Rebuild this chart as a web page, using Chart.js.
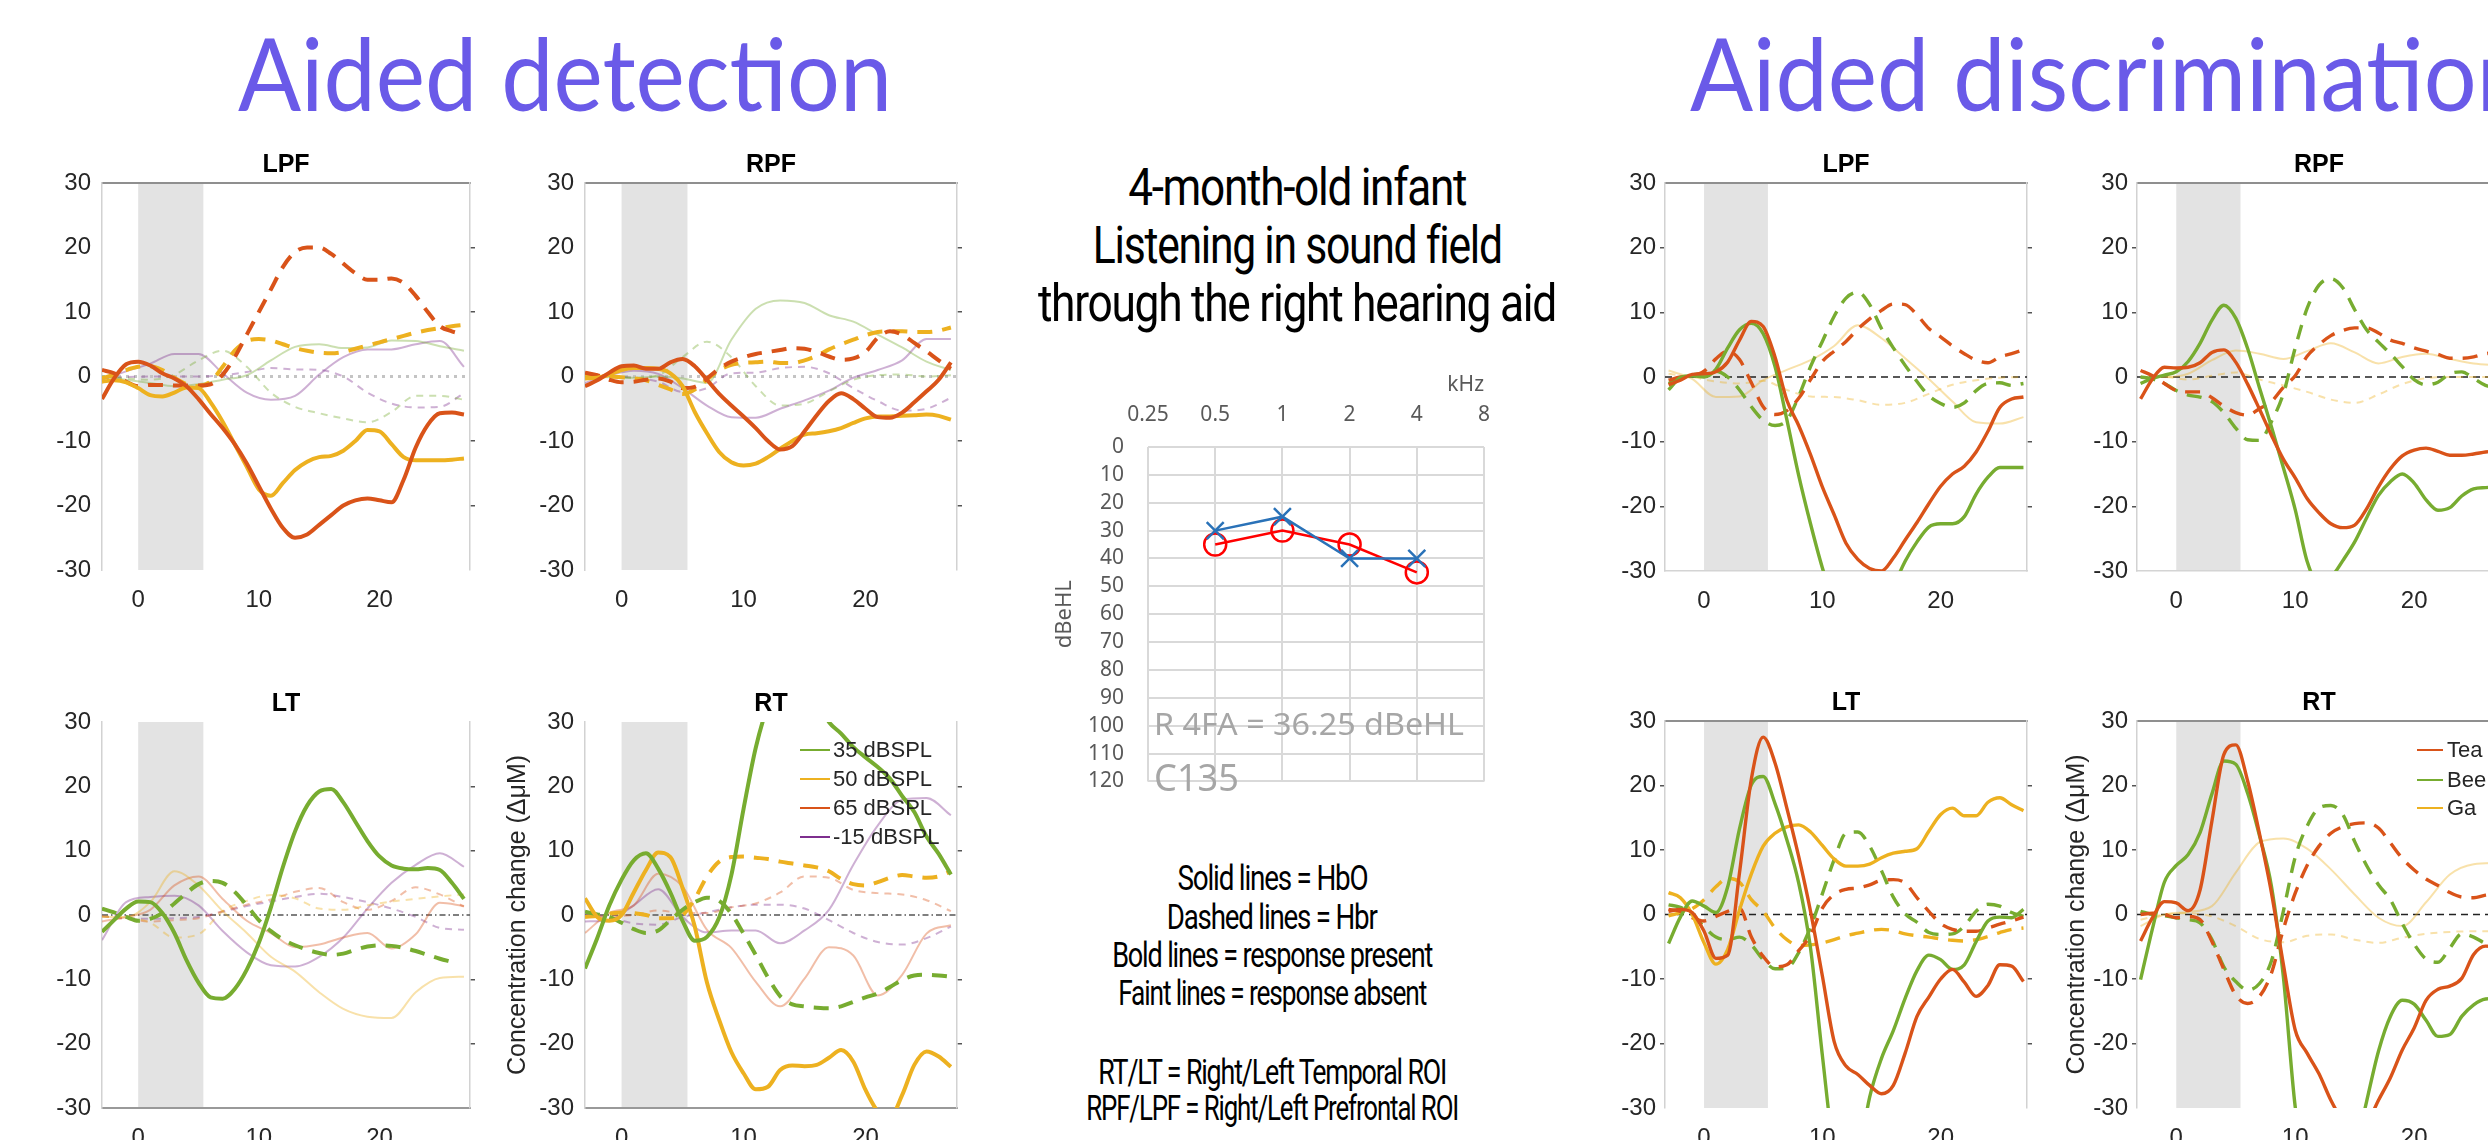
<!DOCTYPE html>
<html lang="en">
<head>
<meta charset="utf-8">
<title>Aided detection and aided discrimination – haemodynamic responses</title>
<script src="https://cdn.jsdelivr.net/npm/chart.js@4.4.1/dist/chart.umd.min.js"></script>
<style>
  html, body { margin:0; padding:0; background:#fff; width:2488px; height:1140px; overflow:hidden; position:relative; }
  canvas { position:absolute; }
  .txt { position:absolute; white-space:nowrap; margin:0; padding:0; }
  .key { position:absolute; }
</style>
</head>
<body>
<script>
// ---------- time bases (seconds from stimulus onset) ----------
const TIME = [-3,-2,-1,0,1,2,3,4,5,6,7,8,9,10,11,12,13,14,15,16,17,18,19,20,21,22,23,24,25,26,27];
const TIME_SPARSE = [-3,-1,1,3,5,7,9,11,13,15,17,19,21,23,25,27];
const STIM_WINDOW = [0, 5.4];
const X_TICKS = [0, 10, 20];
const DET_RANGE = [-3, 27.5];
const DIS_RANGE = [-3.3, 27.3];

// ---------- Aided detection (levels in dB SPL) ----------
const DET_LEVELS = ['35 dBSPL', '50 dBSPL', '65 dBSPL', '-15 dBSPL'];

// LPF
const det_lpf_65_hbo = [-3.5,-0.3,1.9,2.3,1.7,0.5,-0.3,-1.5,-3.5,-5.8,-8,-10.5,-13.5,-17,-20.5,-23.5,-25,-24.5,-23,-21.5,-20,-19.2,-18.9,-19.2,-19.5,-16,-11,-7.5,-5.7,-5.6,-5.9];
const det_lpf_50_hbo = [-0.8,-0.6,-0.9,-1.8,-2.9,-3.1,-2.5,-1.7,-1.8,-4,-7,-10.5,-14,-17.5,-18.5,-16.5,-14.5,-13.2,-12.5,-12.3,-11.5,-10,-8.3,-8.5,-10.5,-12.5,-13,-13,-13,-12.9,-12.7];
const det_lpf_65_hbr = [1,0.5,-0.8,-1.5,-1.3,-1.3,-1.4,-1.4,-1.4,-1.2,0.3,3,6.5,10,13.5,17,19.3,20,20,19,17.5,16,15,15,15.2,14.5,12.5,10,7.8,7,6.5];
const det_lpf_50_hbr = [-0.3,0.3,1,1.5,1.6,1,-0.2,-1.2,-1.5,-0.8,1.5,4,5.5,5.8,5.6,5,4.4,4,3.7,3.6,3.8,4.3,4.8,5.3,5.8,6.3,6.8,7.2,7.5,7.8,8];
const det_lpf_35_hbo = [0,-0.5,-1,-1.5,-1.2,-0.5,0.2,2.5,4.6,5,4.4,4.5,5.6,5.5,4.7,4];
const det_lpf_35_hbr = [0,-0.3,-0.5,0.3,2.5,4,1.5,-2.5,-4.7,-5.7,-6.5,-7.1,-5.5,-3,-3,-3.6];
const det_lpf_m15_hbo = [-0.5,0.8,2,3.5,3.5,0.5,-2.5,-3.6,-3,0.3,3,4.2,4.2,5,5.5,1.5];
const det_lpf_m15_hbr = [-0.3,-0.1,0,0,0,0.2,0.7,1.3,1.1,1,0,-2.5,-4.2,-4.8,-4.7,-2.6];

// RPF
const det_rpf_65_hbo = [-1.5,-0.6,0.6,1.6,1.7,1.2,1.2,2.2,2.7,1.6,-0.5,-2.7,-4.5,-6.2,-8,-10,-11.3,-10.8,-8.5,-6,-3.8,-2.6,-3.5,-5,-6.3,-6.4,-5.6,-4,-2.3,-0.5,2.2];
const det_rpf_50_hbo = [-0.3,-0.2,0.3,1,1.3,1.3,1.2,0.5,-1.5,-5.5,-8.8,-11.7,-13.3,-13.8,-13.5,-12.5,-11.2,-10,-9,-8.8,-8.5,-8,-7.2,-6.5,-6.2,-6.2,-6.1,-6,-5.9,-6.1,-6.7];
const det_rpf_65_hbr = [0.6,0.2,-0.5,-0.9,-0.8,-0.5,-0.3,-0.8,-1.8,-1.6,-0.3,1.2,2.3,3,3.5,3.8,4.1,4.4,4.3,3.8,3.1,2.6,2.8,3.8,6,7,6.5,5.2,3.9,2.5,1.2];
const det_rpf_50_hbr = [0.3,0.1,0,-0.1,-0.3,-0.6,-1.3,-2,-2.7,-2,-0.5,1,1.8,2.1,2.2,2.3,2.1,2.1,2.5,3.2,4.2,5,5.7,6.4,6.9,7,7,6.9,6.9,7.1,7.6];
const det_rpf_35_hbo = [0,-0.1,-0.2,0,-0.3,-1,5.7,10.5,11.8,11.4,9.5,8.5,6.5,4.5,2.3,1];
const det_rpf_35_hbr = [0,0,-0.2,0.2,3,5.4,3,-1.5,-4.5,-4.2,-2.3,-0.5,0.2,0.3,0,0.2];
const det_rpf_m15_hbo = [-1,0.2,0.9,0.4,-1.8,-4.5,-6.3,-6.4,-5,-3.7,-2.2,-0.2,1,2.5,5.8,5.8];
const det_rpf_m15_hbr = [0.2,0,-0.2,-0.8,-2.4,-1.8,0.5,0.6,1.3,1.5,0.5,-1.8,-3.8,-5.3,-5,-3.3];

// LT
const det_lt_35_hbo = [-2.6,-0.8,1,2.1,2,0.3,-2.8,-7,-10.5,-12.8,-13,-11.5,-8.5,-4.3,1.2,7.5,13,17,19.2,19.6,17.5,14.5,11.5,9.1,7.7,7.2,7.1,7.3,7,5,2.5];
const det_lt_35_hbr = [1,0.4,-0.3,-0.9,-0.6,0.3,1.8,3.4,4.8,5.3,5,3.6,1.5,-0.8,-2.5,-3.8,-4.7,-5.4,-5.9,-6.2,-6,-5.4,-4.9,-4.7,-4.8,-5.1,-5.6,-6.2,-6.8,-7.3,null];
const det_lt_50_hbo = [-0.3,-0.3,2,6.8,4.6,0.6,-2.8,-6.5,-8.8,-12,-14.6,-15.8,-16,-12,-9.8,-9.6];
const det_lt_50_hbr = [-0.2,-0.4,-1.2,-3.5,-3,0.6,2.2,3.1,2.6,1,0.8,1.5,2.1,2.5,2.9,3.2];
const det_lt_65_hbo = [-1,-0.3,0.8,4.6,6,2.5,-0.9,-2.8,-5,-4.6,-3.5,-2.8,-5.2,-3,1.9,1.4];
const det_lt_65_hbr = [-0.2,-0.6,-1,-0.8,-0.5,0.6,1.6,2.4,3.6,4.2,2,0.8,2.2,4.3,3.2,1.3];
const det_lt_m15_hbo = [-3.9,2,2.8,3,1.5,-2.5,-5.8,-7.8,-8,-6.5,-3.5,1,5,7.8,9.6,7.5];
const det_lt_m15_hbr = [-0.2,-0.5,-0.6,-0.5,-0.3,0.5,1.4,2.1,2.8,3.3,2.8,2,1,-0.3,-2,-2.3];

// RT
const det_rt_35_hbo = [-8.3,-3.6,1.5,5.5,8.5,9.6,7.2,3.5,-0.9,-4,-3.4,-0.4,6.2,16.5,26,32.5,36,37.5,36.5,33.5,30,28.2,26.1,24.5,23,21.2,18.5,16,12.2,9.5,6.3];
const det_rt_50_hbo = [2.6,-0.3,-0.9,0,3.5,7,9.7,9,4.2,-1.8,-10.5,-16.3,-21.3,-24.6,-27.1,-26.7,-24.1,-23.4,-23.5,-23.3,-22.2,-21,-22.8,-27.2,-30.5,-31.5,-28,-23.3,-21.2,-22,-23.6];
const det_rt_35_hbr = [0.5,0.1,-0.3,-1.2,-2.2,-2.8,-2.4,-0.8,0.8,2,2.7,2.2,0.2,-2.9,-6.2,-9.7,-12.6,-13.9,-14.2,-14.4,-14.5,-14.2,-13.5,-12.8,-12.2,-11.2,-10.1,-9.4,-9.3,-9.4,-9.6];
const det_rt_50_hbr = [-0.3,-0.1,0.2,0.4,0.3,0,-0.5,-0.5,0,2.5,6,8.3,9,9.1,8.9,8.7,8.3,8,7.7,7.4,6.8,5.6,4.8,4.6,5.1,5.8,6.2,6,5.8,6,6.8];
const det_rt_65_hbo = [-2.8,0.3,1.5,6.4,4.4,-2.3,-5.1,-10.4,-14.2,-9.9,-5,-6.3,-12.5,-9.3,-2.9,-1.6];
const det_rt_65_hbr = [-0.2,-0.2,0,0.7,0.3,0.3,1.2,1.8,3.5,6,5.8,3.9,3.4,3.2,2.3,0.6];
const det_rt_m15_hbo = [-1,-0.8,1.5,4,-0.3,-2.7,-2.4,-2.4,-4.4,-2.4,0.8,7.8,13.9,17.9,18.2,15.5];
const det_rt_m15_hbr = [0,-0.4,-1.3,-1.5,-0.3,0.4,1.2,1.6,1.6,1,-0.8,-2.8,-4.2,-4.6,-3.6,-1.8];

// ---------- Aided discrimination (syllables) ----------
const DIS_SYLLABLES = ['Tea', 'Bee', 'Ga'];

// LPF
const dis_lpf_tea_hbo = [-1.2,-0.5,0.4,0.5,0.8,2.3,5.7,8.6,7.8,3.1,-3.6,-7.5,-12,-17,-21.3,-25.7,-28.2,-29.6,-30,-28,-25.2,-22.5,-19.6,-16.9,-15,-13.8,-11.6,-8.4,-4.7,-3.4,-3.1];
const dis_lpf_bee_hbo = [-2,-0.1,0.2,0,1.2,4.5,7.3,8.3,6.7,1.6,-6.6,-15.2,-22.7,-29.5,-35,-39,-41,-40,-37,-32.5,-28.5,-25.5,-23.2,-22.7,-22.7,-21.6,-18.1,-15.5,-14,-14,-14];
const dis_lpf_tea_hbr = [-0.5,0,0.2,0.9,2.8,4,2.7,-0.9,-4.6,-5.8,-5.2,-3.3,-0.4,2.4,4,5.5,7.4,9,10.3,11.3,11.2,9.6,7.5,6.2,4.8,3.6,2.6,2.2,3.1,3.6,4.2];
const dis_lpf_bee_hbr = [-1,-0.3,0.3,0.5,0.9,0,-2,-4.6,-6.7,-7.5,-6.7,-3,1.6,5.5,9.4,12.2,13.1,11.2,7.5,4.5,1.8,-0.7,-2.9,-4.1,-4.7,-4,-2.1,-1,-0.9,-1.3,-1];
const dis_lpf_ga_hbo = [1,-0.3,-3.1,-3,-0.5,1.1,2.6,4.8,8,6,2.9,-0.3,-3.8,-7,-7.2,-6.2];
const dis_lpf_ga_hbr = [0.5,0,-0.7,-1,-0.6,-2,-3,-3.1,-3.6,-4.3,-4,-2.6,-1.2,-0.5,-0.1,0];

// RPF
const dis_rpf_tea_hbo = [-3.4,-0.3,1.5,1.4,1.5,2.2,3.8,4.2,2.3,-1.1,-5,-9,-12.7,-15.6,-18.8,-21,-22.7,-23.3,-22.9,-20.4,-17,-14.2,-12.2,-11.3,-11,-11.5,-12.1,-12.1,-11.9,-11.6,-11.4];
const dis_rpf_bee_hbo = [-1,-0.2,0.3,0.8,2.4,5.2,8.8,11.1,9.1,4.4,-1.7,-7.7,-14,-20.5,-28.5,-32,-31,-28.4,-25.5,-21.8,-18.3,-16.2,-15,-16.4,-19,-20.6,-20.2,-18.4,-17.3,-17.1,-17];
const dis_rpf_tea_hbr = [1,0.2,-1,-2.1,-2.3,-2.3,-3.2,-4.5,-5.5,-5.9,-4.9,-3.8,-1.6,0.2,3.2,5,6.4,7.2,7.6,7.6,6.8,5.7,5.2,4.5,4,3.5,2.9,2.9,3.1,3.6,3.8];
const dis_rpf_bee_hbr = [0,-0.3,-1,-2.1,-2.8,-3.1,-3.8,-5.5,-7.9,-9.7,-9.8,-6.9,-2.6,4.5,10.6,14.2,15.2,13.8,10.4,7.3,5.4,3.6,1.6,-0.4,-1.2,-0.8,0.5,0.8,-0.2,-1.3,-1.6];
const dis_rpf_ga_hbo = [0,0,0.5,2.6,4.1,3.6,2.8,4,5.2,3.8,2.1,3.1,3.6,2.8,2.1,1.8];
const dis_rpf_ga_hbr = [0,0,-0.4,0.2,0.7,-0.4,-1.3,-2.3,-3.5,-4,-2.7,-1.1,-0.2,0,0,0];

// LT
const dis_lt_tea_hbo = [0.5,0.8,0.3,-2.6,-6.8,-6.3,6.5,21,27.5,23.5,16.5,9,0.5,-9.5,-19.7,-23.5,-24.8,-26.5,-27.8,-26.5,-21.5,-15.8,-12.8,-10,-8.5,-10.5,-12.7,-11,-7.8,-8,-10.4];
const dis_lt_bee_hbo = [-4.5,-0.4,2.1,1.3,0.3,4.3,13.3,20.1,21.4,17.2,11.6,4.9,-5.2,-21.8,-37,-42,-38,-28.3,-22.3,-18,-13,-8.7,-6.3,-7,-8.5,-7.8,-4.2,-1,-0.4,-0.5,0.8];
const dis_lt_ga_hbo = [3.4,2.6,0,-4.4,-7.7,-5.4,0.7,6.3,10.6,12.6,13.6,13.9,12.8,10.7,8.6,7.5,7.5,7.8,8.8,9.5,9.8,10.2,12.9,15.5,16.5,15.3,15.3,17.4,18.1,17,16.1];
const dis_lt_tea_hbr = [0.8,0.5,-0.5,-1,-0.3,0.5,1,-3.5,-6.5,-8.1,-7.8,-5.6,-3.2,1,3.1,3.9,4.1,4.6,5.3,5.4,4.9,2.6,0.5,-1.4,-2.3,-2.6,-2.6,-2.1,-1.5,-1,-0.4];
const dis_lt_bee_hbr = [1.5,1.1,0,-1.9,-3.5,-3.9,-3.5,-4.7,-7,-8.4,-8.3,-5.9,-2,3.2,8.5,12.6,12.8,10.6,6.8,2.7,0.1,-1.2,-2.8,-3.1,-3,-1.8,0.5,1.6,1.3,0.3,-0.3];
const dis_lt_ga_hbr = [-0.2,0.3,0.9,2.3,4.3,5.6,5,2.3,0.5,-2.1,-3.9,-4.8,-4.7,-4.4,-3.9,-3.3,-2.9,-2.5,-2.3,-2.5,-3,-3.3,-3.5,-3.8,-4,-4.1,-3.9,-3.4,-2.8,-2.3,-2.1];

// RT
const dis_rt_tea_hbo = [-4.1,-0.5,2,1.8,0.6,3.8,14.5,24.8,26.3,20.7,12.5,3.4,-7.7,-17.9,-21.5,-24.7,-28.8,-32,-34,-32.5,-28.8,-25.3,-21,-17.6,-13.3,-11.6,-11.1,-9.9,-6.2,-4.9,-5];
const dis_rt_bee_hbo = [-10.1,-2.2,5,7.6,9.3,12.7,18.7,23.8,23.3,18.8,12.2,4.4,-9.6,-29.8,-40,-45,-46,-43,-37,-29,-21.2,-15.8,-13.3,-13.9,-16.4,-18.9,-18.6,-15.8,-14,-13.1,-13];
const dis_rt_tea_hbr = [0,0.2,0,-0.5,-0.3,-0.8,-4.2,-8.5,-12.5,-13.8,-12.7,-9.1,-2.3,3.3,7.6,10.6,12.6,13.6,14.1,14.2,13.4,11.1,8.7,6.9,5.5,4.5,3.4,2.7,2.6,3,3.2];
const dis_rt_bee_hbr = [0.5,0,-0.2,-0.5,-0.8,-1.3,-3.9,-8.1,-10.4,-11.7,-10.7,-7.2,0.5,8.9,13.7,16.5,16.9,15.5,11.3,7.6,4.6,2.3,-1.4,-4.6,-6.9,-7.4,-5.2,-3,-3.5,-4.5,-5];
const dis_rt_ga_hbo = [-1.8,0,0.4,1.3,6.5,11.2,11.8,10.2,7,3.1,-0.5,-1.8,1.9,6.2,7.8,8];
const dis_rt_ga_hbr = [-0.8,0,0.2,-0.3,-1.8,-3.8,-4.3,-3.3,-3.1,-3.9,-4.4,-3.6,-3,-2.7,-2.6,-2.6];

// ---------- Aided audiogram (right ear, sound field) ----------
const AUDIO_FREQ_KHZ = ['0.25', '0.5', '1', '2', '4', '8'];
const AIDED_RIGHT_X = [null, 30, 25, 40, 40, null];
const AIDED_RIGHT_O = [null, 35, 30, 35, 45, null];
const FOUR_FREQ_IDX = [1, 2, 3, 4];

// ---------- styling ----------
const GREEN = '#77AC30', ORANGE = '#EDB120', RED = '#D95319', PURPLE = '#7E2F8E';
const SANS = "'Liberation Sans', Arial, Helvetica, sans-serif";
const NOTO = "'Noto Sans', 'Open Sans', sans-serif";

function rgba(hex, a) {
  const n = parseInt(hex.slice(1), 16);
  return `rgba(${(n >> 16) & 255},${(n >> 8) & 255},${n & 255},${a})`;
}

const LINE_STYLE = {
  bold:      { width: 4,   dash: [],       alpha: 1 },
  boldDash:  { width: 4,   dash: [15, 10], alpha: 1 },
  faint:     { width: 2,   dash: [],       alpha: 0.38 },
  faintDash: { width: 2,   dash: [7, 6],   alpha: 0.38 }
};
const ZERO_STYLE = {
  dot:     { borderColor: '#c4c4c4', borderWidth: 3,   borderDash: [3, 5] },
  dashdot: { borderColor: '#555555', borderWidth: 1.5, borderDash: [6, 3, 1.5, 3] },
  dash:    { borderColor: '#222222', borderWidth: 1.6, borderDash: [7, 5] }
};

// grey shading for the stimulus period
const stimulusBand = {
  id: 'stimulusBand',
  beforeDraw(chart, args, opts) {
    if (!opts || !opts.range) return;
    const { ctx, chartArea, scales } = chart;
    const x0 = scales.x.getPixelForValue(opts.range[0]);
    const x1 = scales.x.getPixelForValue(opts.range[1]);
    ctx.save();
    ctx.fillStyle = opts.color;
    ctx.fillRect(x0, chartArea.top, x1 - x0, chartArea.bottom - chartArea.top);
    ctx.restore();
  }
};

const s = (v, t, c, kind) => ({ v, t, c, kind });

const PANELS = [
  { title: 'LPF', box: [102, 183, 368, 387], range: DET_RANGE, zero: 'dot', top: true, bottom: false, boldScale: 1, leftTicks: false, lines: [
      s(det_lpf_65_hbo, TIME, RED, 'bold'), s(det_lpf_50_hbo, TIME, ORANGE, 'bold'),
      s(det_lpf_65_hbr, TIME, RED, 'boldDash'), s(det_lpf_50_hbr, TIME, ORANGE, 'boldDash'),
      s(det_lpf_35_hbo, TIME_SPARSE, GREEN, 'faint'), s(det_lpf_35_hbr, TIME_SPARSE, GREEN, 'faintDash'),
      s(det_lpf_m15_hbo, TIME_SPARSE, PURPLE, 'faint'), s(det_lpf_m15_hbr, TIME_SPARSE, PURPLE, 'faintDash') ] },
  { title: 'RPF', box: [585, 183, 372, 387], range: DET_RANGE, zero: 'dot', top: true, bottom: false, boldScale: 1, leftTicks: false, lines: [
      s(det_rpf_65_hbo, TIME, RED, 'bold'), s(det_rpf_50_hbo, TIME, ORANGE, 'bold'),
      s(det_rpf_65_hbr, TIME, RED, 'boldDash'), s(det_rpf_50_hbr, TIME, ORANGE, 'boldDash'),
      s(det_rpf_35_hbo, TIME_SPARSE, GREEN, 'faint'), s(det_rpf_35_hbr, TIME_SPARSE, GREEN, 'faintDash'),
      s(det_rpf_m15_hbo, TIME_SPARSE, PURPLE, 'faint'), s(det_rpf_m15_hbr, TIME_SPARSE, PURPLE, 'faintDash') ] },
  { title: 'LT', box: [102, 722, 368, 386], range: DET_RANGE, zero: 'dashdot', top: false, bottom: true, boldScale: 1, leftTicks: false, lines: [
      s(det_lt_35_hbo, TIME, GREEN, 'bold'), s(det_lt_35_hbr, TIME, GREEN, 'boldDash'),
      s(det_lt_50_hbo, TIME_SPARSE, ORANGE, 'faint'), s(det_lt_50_hbr, TIME_SPARSE, ORANGE, 'faintDash'),
      s(det_lt_65_hbo, TIME_SPARSE, RED, 'faint'), s(det_lt_65_hbr, TIME_SPARSE, RED, 'faintDash'),
      s(det_lt_m15_hbo, TIME_SPARSE, PURPLE, 'faint'), s(det_lt_m15_hbr, TIME_SPARSE, PURPLE, 'faintDash') ] },
  { title: 'RT', box: [585, 722, 372, 386], range: DET_RANGE, zero: 'dashdot', top: false, bottom: true, boldScale: 1, leftTicks: false,
    ytitle: { text: 'Concentration change (ΔμM)', pad: 28 }, lines: [
      s(det_rt_35_hbo, TIME, GREEN, 'bold'), s(det_rt_50_hbo, TIME, ORANGE, 'bold'),
      s(det_rt_35_hbr, TIME, GREEN, 'boldDash'), s(det_rt_50_hbr, TIME, ORANGE, 'boldDash'),
      s(det_rt_65_hbo, TIME_SPARSE, RED, 'faint'), s(det_rt_65_hbr, TIME_SPARSE, RED, 'faintDash'),
      s(det_rt_m15_hbo, TIME_SPARSE, PURPLE, 'faint'), s(det_rt_m15_hbr, TIME_SPARSE, PURPLE, 'faintDash') ] },
  { title: 'LPF', box: [1665, 183, 362, 388], range: DIS_RANGE, zero: 'dash', top: true, bottom: true, boldScale: 0.85, leftTicks: true, lines: [
      s(dis_lpf_tea_hbo, TIME, RED, 'bold'), s(dis_lpf_bee_hbo, TIME, GREEN, 'bold'),
      s(dis_lpf_tea_hbr, TIME, RED, 'boldDash'), s(dis_lpf_bee_hbr, TIME, GREEN, 'boldDash'),
      s(dis_lpf_ga_hbo, TIME_SPARSE, ORANGE, 'faint'), s(dis_lpf_ga_hbr, TIME_SPARSE, ORANGE, 'faintDash') ] },
  { title: 'RPF', box: [2137, 183, 364, 388], range: DIS_RANGE, zero: 'dash', top: true, bottom: true, boldScale: 0.85, leftTicks: true, lines: [
      s(dis_rpf_tea_hbo, TIME, RED, 'bold'), s(dis_rpf_bee_hbo, TIME, GREEN, 'bold'),
      s(dis_rpf_tea_hbr, TIME, RED, 'boldDash'), s(dis_rpf_bee_hbr, TIME, GREEN, 'boldDash'),
      s(dis_rpf_ga_hbo, TIME_SPARSE, ORANGE, 'faint'), s(dis_rpf_ga_hbr, TIME_SPARSE, ORANGE, 'faintDash') ] },
  { title: 'LT', box: [1665, 721, 362, 387], range: DIS_RANGE, zero: 'dash', top: true, bottom: false, boldScale: 0.85, leftTicks: true, lines: [
      s(dis_lt_tea_hbo, TIME, RED, 'bold'), s(dis_lt_bee_hbo, TIME, GREEN, 'bold'), s(dis_lt_ga_hbo, TIME, ORANGE, 'bold'),
      s(dis_lt_tea_hbr, TIME, RED, 'boldDash'), s(dis_lt_bee_hbr, TIME, GREEN, 'boldDash'), s(dis_lt_ga_hbr, TIME, ORANGE, 'boldDash') ] },
  { title: 'RT', box: [2137, 721, 364, 387], range: DIS_RANGE, zero: 'dash', top: true, bottom: false, boldScale: 0.85, leftTicks: true,
    ytitle: { text: 'Concentration change (ΔμM)', pad: 35 }, lines: [
      s(dis_rt_tea_hbo, TIME, RED, 'bold'), s(dis_rt_bee_hbo, TIME, GREEN, 'bold'),
      s(dis_rt_tea_hbr, TIME, RED, 'boldDash'), s(dis_rt_bee_hbr, TIME, GREEN, 'boldDash'),
      s(dis_rt_ga_hbo, TIME_SPARSE, ORANGE, 'faint'), s(dis_rt_ga_hbr, TIME_SPARSE, ORANGE, 'faintDash') ] }
];

function makeCanvas(left, top, w, h) {
  const cv = document.createElement('canvas');
  cv.width = w; cv.height = h;
  cv.style.left = left + 'px'; cv.style.top = top + 'px';
  cv.style.width = w + 'px'; cv.style.height = h + 'px';
  document.body.appendChild(cv);
  return cv;
}

// short tick marks at the inner y values only
const TICK_LEN = 5;
const innerTickColor = c => (c.tick && Math.abs(c.tick.value) > 0 && Math.abs(c.tick.value) < 30) ? '#555555' : 'rgba(0,0,0,0)';
const tickMarks = { display: true, drawOnChartArea: false, drawTicks: true, tickLength: TICK_LEN, lineWidth: 1.5, color: innerTickColor };

function drawPanel(p) {
  const PADL = 110, PADR = 110, PADT = 60, PADB = 50;
  const [L, T, W, H] = p.box;
  const cv = makeCanvas(L - PADL, T - PADT, W + PADL + PADR, H + PADT + PADB);
  const datasets = p.lines.map(line => {
    const st = LINE_STYLE[line.kind];
    const isBold = line.kind.startsWith('bold');
    return {
      data: line.t.map((t, i) => ({ x: t, y: line.v[i] })),
      borderColor: st.alpha < 1 ? rgba(line.c, st.alpha) : line.c,
      borderWidth: isBold ? st.width * p.boldScale : st.width,
      borderDash: st.dash,
      borderCapStyle: 'butt',
      pointRadius: 0,
      cubicInterpolationMode: 'monotone',
      fill: false,
      spanGaps: false
    };
  });
  datasets.push(Object.assign({
    data: [{ x: p.range[0], y: 0 }, { x: p.range[1], y: 0 }],
    pointRadius: 0, fill: false
  }, ZERO_STYLE[p.zero]));

  const tickFont = { family: SANS, size: 24 };
  new Chart(cv, {
    type: 'line',
    data: { datasets },
    plugins: [stimulusBand],
    options: {
      responsive: false, animation: false, devicePixelRatio: 1, events: [],
      layout: { padding: 0 },
      plugins: {
        legend: { display: false }, tooltip: { enabled: false },
        title: { display: true, text: p.title, color: '#000',
                 font: { family: SANS, size: 25, weight: 'bold', lineHeight: 1.2 },
                 padding: { top: PADT - 18 - 15, bottom: 18 - 15 } },
        stimulusBand: { range: STIM_WINDOW, color: '#e3e3e3' }
      },
      scales: {
        x: { type: 'linear', position: 'bottom', min: p.range[0], max: p.range[1],
             afterBuildTicks: sc => { sc.ticks = X_TICKS.map(v => ({ value: v })); },
             ticks: { color: '#262626', font: tickFont, padding: 16, maxRotation: 0, autoSkip: false },
             grid: { display: false, drawTicks: false },
             border: { display: p.bottom, color: p.top ? '#d4d4d4' : '#999999', width: p.top ? 1.5 : 2 },
             afterFit: sc => { sc.height = PADB; } },
        x2: { type: 'linear', position: 'top', min: p.range[0], max: p.range[1],
              ticks: { display: false }, grid: { display: false, drawTicks: false },
              border: { display: p.top, color: '#8f8f8f', width: 2 },
              afterFit: sc => { sc.height = 0; } },
        y: { type: 'linear', position: 'left', min: -30, max: 30,
             ticks: { stepSize: 10, color: '#262626', font: tickFont, padding: p.leftTicks ? 4 : 11, autoSkip: false },
             grid: p.leftTicks ? tickMarks : { display: false, drawTicks: false },
             border: { display: true, color: '#d2d2d2', width: 1.5 },
             title: p.ytitle ? { display: true, text: p.ytitle.text, color: '#262626',
                                 font: { family: SANS, size: 25, lineHeight: 1.2 },
                                 padding: { top: p.ytitle.pad, bottom: 0 } } : { display: false },
             afterFit: sc => { sc.width = PADL; } },
        y2: { type: 'linear', position: 'right', min: -30, max: 30,
              ticks: { display: false, stepSize: 10 }, grid: tickMarks,
              border: { display: true, color: '#d2d2d2', width: 1.5 },
              afterFit: sc => { sc.width = PADR; } }
      }
    }
  });
}

function drawAudiogram() {
  const L = 1148, T = 447, W = 336, H = 351;
  const PADL = 100, PADT = 100, PADR = 40, PADB = 20;
  const cv = makeCanvas(L - PADL, T - PADT, W + PADL + PADR, H + PADT + PADB);
  const grey = '#595959', gridCol = '#d9d9d9';
  new Chart(cv, {
    type: 'line',
    data: {
      labels: AUDIO_FREQ_KHZ,
      datasets: [
        { data: AIDED_RIGHT_X, borderColor: '#2a72b8', borderWidth: 2.5, pointStyle: 'crossRot',
          pointRadius: 12, pointBorderWidth: 2.5, pointBorderColor: '#2a72b8', pointBackgroundColor: '#2a72b8',
          tension: 0, spanGaps: false, fill: false },
        { data: AIDED_RIGHT_O, borderColor: '#ff0000', borderWidth: 2.5, pointStyle: 'circle',
          pointRadius: 11, pointBorderWidth: 2.5, pointBorderColor: '#ff0000', pointBackgroundColor: 'rgba(0,0,0,0)',
          tension: 0, spanGaps: false, fill: false }
      ]
    },
    options: {
      responsive: false, animation: false, devicePixelRatio: 1, events: [],
      layout: { padding: { right: PADR, bottom: PADB } },
      plugins: { legend: { display: false }, tooltip: { enabled: false } },
      scales: {
        x: { type: 'category', position: 'top', offset: false,
             grid: { color: gridCol, lineWidth: 2, drawTicks: false },
             border: { display: false },
             ticks: { color: grey, font: { family: NOTO, size: 21, lineHeight: 1.2 }, padding: 19, maxRotation: 0, autoSkip: false },
             title: { display: true, text: 'kHz', align: 'end', color: grey,
                      font: { family: NOTO, size: 21, lineHeight: 1.2 }, padding: { top: 25, bottom: 0 } },
             afterFit: sc => { sc.height = PADT; } },
        y: { type: 'linear', reverse: true, min: 0, max: 120,
             grid: { color: gridCol, lineWidth: 2, drawTicks: false },
             border: { display: false },
             ticks: { stepSize: 10, color: grey, font: { family: NOTO, size: 21 }, padding: 24, autoSkip: false },
             title: { display: true, text: 'dBeHL', color: grey,
                      font: { family: NOTO, size: 22, lineHeight: 1.2 }, padding: { top: 3.8, bottom: 0 } },
             afterFit: sc => { sc.width = PADL; } }
      }
    }
  });
}

// ---------- HTML text helpers ----------
const FIT_TASKS = [];
function placeText(str, o) {
  const el = document.createElement('div');
  el.className = 'txt';
  el.textContent = str;
  el.style.fontFamily = o.family;
  el.style.fontSize = o.size + 'px';
  el.style.fontWeight = o.weight || 400;
  el.style.lineHeight = o.size + 'px';
  el.style.color = o.color;
  if (o.spacing) el.style.letterSpacing = o.spacing + 'px';
  el.style.top = (o.baseline - o.k * o.size) + 'px';
  document.body.appendChild(el);
  const rec = { el, sx: 1 };
  const fit = () => {
    el.style.transform = 'none';
    const w = el.getBoundingClientRect().width;
    rec.sx = o.width ? o.width / w : (o.scaleOf ? o.scaleOf.sx : 1);
    if (o.cx !== undefined) { el.style.left = (o.cx - w / 2) + 'px'; el.style.transformOrigin = '50% 50%'; }
    else { el.style.left = o.left + 'px'; el.style.transformOrigin = '0 50%'; }
    el.style.transform = `scaleX(${rec.sx})`;
  };
  fit();
  FIT_TASKS.push(fit);
  return rec;
}

function keyLine(x, y, w, color) {
  const d = document.createElement('div');
  d.className = 'key';
  d.style.left = x + 'px'; d.style.top = (y - 1.25) + 'px';
  d.style.width = w + 'px'; d.style.height = '2.5px';
  d.style.background = color;
  document.body.appendChild(d);
}

// ---------- build ----------
PANELS.forEach(drawPanel);
drawAudiogram();

const K_LATO = 0.887, K_ROBOTO = 0.842, K_NOTO = 0.888, K_SANS = 0.8465;
const HEAD = { family: "Lato, 'Open Sans', sans-serif", size: 100, color: '#6a5ae8', k: K_LATO };
const headL = placeText('Aided detection', Object.assign({ left: 238, baseline: 111, width: 654 }, HEAD));
placeText('Aided discrimination', Object.assign({ left: 1690, baseline: 111, scaleOf: headL }, HEAD));

const COND = { family: "Roboto, 'Open Sans', sans-serif", color: '#000', k: K_ROBOTO };
const SUBJECT_LINES = ['4-month-old infant', 'Listening in sound field', 'through the right hearing aid'];
const SUBJECT_Y = [205, 263, 321], SUBJECT_W = [338, 409, 518];
SUBJECT_LINES.forEach((t, i) => placeText(t, Object.assign({ size: 51, cx: 1297, baseline: SUBJECT_Y[i], width: SUBJECT_W[i], spacing: -1.5 }, COND)));

const NOTES = ['Solid lines = HbO', 'Dashed lines = Hbr', 'Bold lines = response present', 'Faint lines = response absent',
               'RT/LT = Right/Left Temporal ROI', 'RPF/LPF = Right/Left Prefrontal ROI'];
const NOTES_Y = [890, 929, 967, 1005, 1084, 1120], NOTES_W = [190, 210, 320, 308, 348, 372];
NOTES.forEach((t, i) => placeText(t, Object.assign({ size: 35, cx: 1272, baseline: NOTES_Y[i], width: NOTES_W[i], spacing: -1.5 }, COND)));

// four-frequency average of the aided thresholds
const fourFA = FOUR_FREQ_IDX.reduce((a, i) => a + AIDED_RIGHT_O[i], 0) / FOUR_FREQ_IDX.length;
placeText(`R 4FA = ${fourFA} dBeHL`, { family: NOTO, size: 30, color: '#a6a6a6', k: K_NOTO, left: 1154, baseline: 736, width: 310 });
placeText('C135', { family: NOTO, size: 38, color: '#a6a6a6', k: K_NOTO, left: 1154, baseline: 791, width: 85 });

// legends
const DET_COLORS = [GREEN, ORANGE, RED, PURPLE];
const DET_KEY_Y = [750, 779, 808, 837];
DET_LEVELS.forEach((lab, i) => {
  keyLine(800, DET_KEY_Y[i], 30, DET_COLORS[i]);
  placeText(lab, { family: SANS, size: 22, color: '#262626', k: K_SANS, left: 833, baseline: DET_KEY_Y[i] + 7.9 });
});
const DIS_COLORS = [RED, GREEN, ORANGE];
const DIS_KEY_Y = [750, 780, 808];
DIS_SYLLABLES.forEach((lab, i) => {
  keyLine(2417, DIS_KEY_Y[i], 26, DIS_COLORS[i]);
  placeText(lab, { family: SANS, size: 22, color: '#262626', k: K_SANS, left: 2447, baseline: DIS_KEY_Y[i] + 7.9 });
});

if (document.fonts && document.fonts.ready) document.fonts.ready.then(() => FIT_TASKS.forEach(f => f()));
</script>
</body>
</html>
